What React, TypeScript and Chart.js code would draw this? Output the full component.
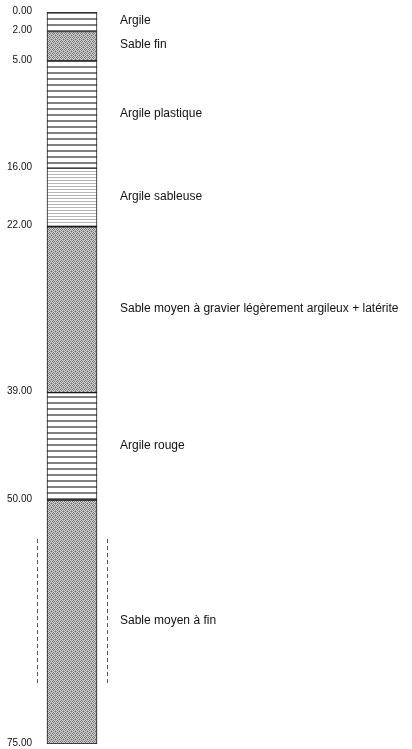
import React, { useEffect, useRef } from "react";
import { Chart, registerables } from "chart.js";

Chart.register(...registerables);

const depthTicks = [0, 2, 5, 16, 22, 39, 50, 75];
const layerTop = [0, 2, 5, 16, 22, 39, 50];
const layerBase = [2, 5, 16, 22, 39, 50, 75];
const layerLithology = ["argile", "sable", "argile", "argileSableuse", "sable", "argile", "sable"];
const layerLabels = [
  "Argile",
  "Sable fin",
  "Argile plastique",
  "Argile sableuse",
  "Sable moyen à gravier légèrement argileux + latérite",
  "Argile rouge",
  "Sable moyen à fin",
];
const screenTop = [54];
const screenBase = [69];

function makePattern(kind: string): CanvasPattern | string {
  const c = document.createElement("canvas");
  const ctx = c.getContext("2d");
  if (!ctx) return "#ccc";
  if (kind === "argile") {
    c.width = 4; c.height = 6;
    ctx.fillStyle = "#ffffff"; ctx.fillRect(0, 0, 4, 6);
    ctx.fillStyle = "#808080"; ctx.fillRect(0, 0, 4, 2);
  } else if (kind === "argileSableuse") {
    c.width = 4; c.height = 3;
    ctx.fillStyle = "#ffffff"; ctx.fillRect(0, 0, 4, 3);
    ctx.fillStyle = "#b4b4b4"; ctx.fillRect(0, 0, 4, 1);
  } else {
    c.width = 4; c.height = 4;
    ctx.fillStyle = "#a6a6a6"; ctx.fillRect(0, 0, 4, 4);
    const dark = [[1, 0], [0, 1], [2, 1], [1, 2], [3, 3]];
    const light = [[0, 0], [2, 0], [1, 1], [3, 1], [0, 2], [2, 2], [1, 3]];
    ctx.fillStyle = "#707070";
    dark.forEach(([x, y]) => ctx.fillRect(x, y, 1, 1));
    ctx.fillStyle = "#d4d4d4";
    light.forEach(([x, y]) => ctx.fillRect(x, y, 1, 1));
  }
  return ctx.createPattern(c, "repeat") || "#ccc";
}

const screenX = 0.95;

const screenPlugin = {
  id: "screenLines",
  afterDatasetsDraw(chart: any) {
    const { ctx, scales } = chart;
    const xs = scales.x;
    const ys = scales.y;
    ctx.save();
    ctx.strokeStyle = "#555555";
    ctx.lineWidth = 1;
    ctx.setLineDash([4, 3]);
    screenTop.forEach((t, i) => {
      [-screenX, screenX].forEach((xv) => {
        const px = Math.round(xs.getPixelForValue(xv)) + 0.5;
        ctx.beginPath();
        ctx.moveTo(px, ys.getPixelForValue(t));
        ctx.lineTo(px, ys.getPixelForValue(screenBase[i]));
        ctx.stroke();
      });
    });
    ctx.restore();
  },
};

export default function App() {
  const ref = useRef<HTMLCanvasElement>(null);
  useEffect(() => {
    if (!ref.current) return;
    const fills = layerLithology.map((k) => makePattern(k));
    const midpoints = layerTop.map((t, i) => (t + layerBase[i]) / 2);
    const chart = new Chart(ref.current, {
      type: "bar",
      data: {
        datasets: [
          {
            type: "bar",
            data: layerTop.map((t, i) => ({ x: 0, y: [t, layerBase[i]] })) as any,
            backgroundColor: fills as any,
            borderColor: "#1a1a1a",
            borderWidth: 1,
            borderSkipped: false,
            barThickness: 50,
            grouped: false,
            yAxisID: "y",
          },
        ],
      },
      plugins: [screenPlugin],
      options: {
        animation: false,
        responsive: true,
        maintainAspectRatio: false,
        layout: { padding: { top: 12, bottom: 5, left: 0, right: 0 } },
        plugins: { legend: { display: false }, tooltip: { enabled: false } },
        scales: {
          x: { type: "linear", min: -1, max: 1, offset: false, display: false },
          y: {
            type: "linear",
            position: "left",
            min: 0,
            max: 75,
            reverse: true,
            grid: { display: false, drawTicks: false },
            border: { display: false },
            afterBuildTicks: (s: any) => {
              s.ticks = depthTicks.map((v) => ({ value: v }));
            },
            afterFit: (s: any) => {
              s.width = 35;
              s.paddingTop = 0;
              s.paddingBottom = 0;
            },
            ticks: {
              autoSkip: false,
              padding: 3,
              labelOffset: -1,
              color: "#111111",
              font: { family: "Arial, 'Liberation Sans', sans-serif", size: 10 },
              callback: (v: any) => Number(v).toFixed(2),
            },
          },
          y2: {
            type: "linear",
            position: "right",
            min: 0,
            max: 75,
            reverse: true,
            grid: { display: false, drawTicks: false },
            border: { display: false },
            afterBuildTicks: (s: any) => {
              s.ticks = midpoints.map((v) => ({ value: v }));
            },
            afterFit: (s: any) => {
              s.width = 303;
              s.paddingTop = 0;
              s.paddingBottom = 0;
            },
            ticks: {
              autoSkip: false,
              padding: 11,
              labelOffset: -1,
              color: "#111111",
              font: { family: "Arial, 'Liberation Sans', sans-serif", size: 12 },
              callback: (_v: any, i: number) => layerLabels[i],
            },
          },
        },
      },
    });
    return () => chart.destroy();
  }, []);
  return (
    <div style={{ position: "absolute", left: 0, top: 0, width: 412, height: 749 }}>
      <canvas ref={ref} />
    </div>
  );
}
